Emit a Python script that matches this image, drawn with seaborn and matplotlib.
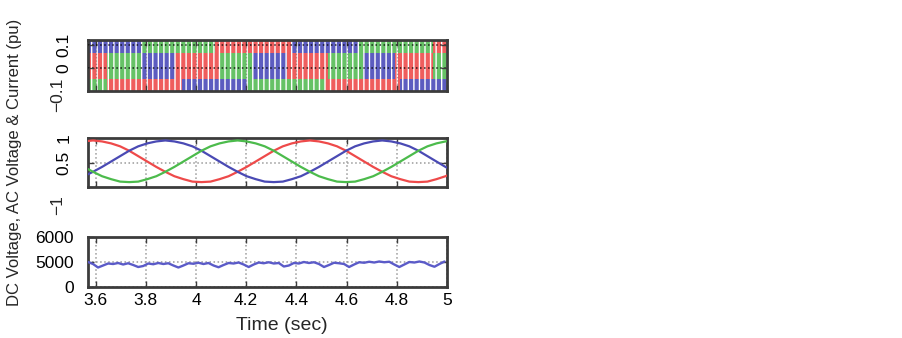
import numpy as np
import pandas as pd
import matplotlib
matplotlib.use("Agg")
import matplotlib.pyplot as plt
import seaborn as sns

# ---------------- data ----------------
# Top panel: switching pattern, segment edges (s) and phase colour per row
top_row_edges = [3.57, 3.785, 4.076, 4.383, 4.645, 4.944, 5.0]
top_row_phase = ["b", "g", "r", "b", "g", "r"]
mid_row_edges = [3.57, 3.646, 3.78, 3.917, 4.096, 4.227, 4.363, 4.526, 4.665, 4.793, 4.944, 5.0]
mid_row_phase = ["r", "g", "b", "r", "g", "b", "r", "g", "b", "r", "g"]
bot_row_edges = [3.57, 3.646, 3.944, 4.207, 4.514, 4.813, 5.0]
bot_row_phase = ["g", "r", "b", "g", "r", "b"]

# Middle panel: AC voltages (pu)
ac_time = [3.554, 3.590, 3.626, 3.662, 3.698, 3.734, 3.770, 3.806, 3.842, 3.878,
           3.914, 3.950, 3.986, 4.022, 4.058, 4.094, 4.130, 4.166, 4.202, 4.238,
           4.274, 4.310, 4.346, 4.382, 4.418, 4.454, 4.490, 4.526, 4.562, 4.598,
           4.634, 4.670, 4.706, 4.742, 4.778, 4.814, 4.850, 4.886, 4.922, 4.958,
           4.994, 5.030]
ac_red = [0.93, 0.95, 0.93, 0.89, 0.83, 0.74, 0.63, 0.52, 0.41, 0.31, 0.22, 0.16, 0.11, 0.10,
          0.11, 0.16, 0.22, 0.31, 0.41, 0.52, 0.63, 0.74, 0.83, 0.89, 0.93, 0.95, 0.93, 0.89,
          0.83, 0.74, 0.63, 0.52, 0.41, 0.31, 0.22, 0.16, 0.11, 0.10, 0.11, 0.16, 0.22, 0.31]
ac_blue = [0.22, 0.31, 0.41, 0.52, 0.63, 0.74, 0.83, 0.89, 0.93, 0.95, 0.93, 0.89, 0.83, 0.74,
           0.63, 0.52, 0.41, 0.31, 0.22, 0.16, 0.11, 0.10, 0.11, 0.16, 0.22, 0.31, 0.41, 0.52,
           0.63, 0.74, 0.83, 0.89, 0.93, 0.95, 0.93, 0.89, 0.83, 0.74, 0.63, 0.52, 0.41, 0.31]
ac_green = [0.41, 0.31, 0.22, 0.16, 0.11, 0.10, 0.11, 0.16, 0.22, 0.31, 0.41, 0.52, 0.63, 0.74,
            0.83, 0.89, 0.93, 0.95, 0.93, 0.89, 0.83, 0.74, 0.63, 0.52, 0.41, 0.31, 0.22, 0.16,
            0.11, 0.10, 0.11, 0.16, 0.22, 0.31, 0.41, 0.52, 0.63, 0.74, 0.83, 0.89, 0.93, 0.95]

# Bottom panel: DC voltage
dc_time = [3.57, 3.59, 3.61, 3.63, 3.65, 3.67, 3.69, 3.71, 3.73, 3.75, 3.77, 3.79,
           3.81, 3.83, 3.85, 3.87, 3.89, 3.91, 3.93, 3.95, 3.97, 3.99, 4.01, 4.03,
           4.05, 4.07, 4.09, 4.11, 4.13, 4.15, 4.17, 4.19, 4.21, 4.23, 4.25, 4.27,
           4.29, 4.31, 4.33, 4.35, 4.37, 4.39, 4.41, 4.43, 4.45, 4.47, 4.49, 4.51,
           4.53, 4.55, 4.57, 4.59, 4.61, 4.63, 4.65, 4.67, 4.69, 4.71, 4.73, 4.75,
           4.77, 4.79, 4.81, 4.83, 4.85, 4.87, 4.89, 4.91, 4.93, 4.95, 4.97, 4.99]
dc_volt = [5000, 4920, 4780, 4860, 4940, 4920, 4960, 4900, 4950, 4880, 4800, 4840,
           4940, 4910, 4960, 4920, 4950, 4860, 4780, 4860, 4950, 4930, 4970, 4920,
           4960, 4860, 4790, 4880, 4960, 4940, 4980, 4900, 4800, 4900, 4980, 4950,
           4990, 4940, 4960, 4820, 4860, 4960, 4940, 5000, 4960, 4990, 4920, 4800,
           4880, 4970, 4950, 4920, 4800, 4900, 4990, 4970, 5010, 4980, 5020, 4990,
           5010, 4900, 4800, 4900, 5000, 4980, 5020, 4980, 4880, 4810, 4920, 5020]

x_ticks = [3.6, 3.8, 4.0, 4.2, 4.4, 4.6, 4.8, 5.0]
x_ticklabels = ["3.6", "3.8", "4", "4.2", "4.4", "4.6", "4.8", "5"]

# ---------------- style ----------------
sns.set_theme(style="white")
plt.rcParams["font.family"] = ["Liberation Sans", "DejaVu Sans"]
plt.rcParams["hatch.linewidth"] = 1.0
plt.rcParams["axes.unicode_minus"] = True

PAL = {"b": "#5c5cc0", "g": "#66c266", "r": "#ef5d5d"}
LINE = {"red": "#ee4a4a", "blue": "#4a4ab4", "green": "#4cbb4c"}
SPINE = "#3c3c3c"
FS = 12.5

W, H = 903, 338
fig = plt.figure(figsize=(W / 100, H / 100), dpi=100)


def box(x0, y0, x1, y1):
    return [x0 / W, 1 - y1 / H, (x1 - x0) / W, (y1 - y0) / H]


ax1 = fig.add_axes(box(88, 40, 447, 91))
ax2 = fig.add_axes(box(88, 138, 447, 187))
ax3 = fig.add_axes(box(88, 237, 447, 287))

XLIM = (3.57, 5.0)

for ax in (ax1, ax2, ax3):
    ax.set_xlim(*XLIM)
    ax.set_xticks(x_ticks)
    for s in ax.spines.values():
        s.set_color(SPINE)
        s.set_linewidth(2)
    ax.tick_params(direction="in", length=4, width=1, color=SPINE,
                   top=True, right=True, bottom=True, left=True,
                   labelsize=FS, labelcolor="black")

# ---- top panel ----
ax1.set_ylim(-0.1, 0.12)
rows = [(top_row_edges, top_row_phase, 0.064, 0.12),
        (mid_row_edges, mid_row_phase, -0.048, 0.064),
        (bot_row_edges, bot_row_phase, -0.1, -0.048)]
for edges, phases, y0, y1 in rows:
    for i, ph in enumerate(phases):
        ax1.barh(y=(y0 + y1) / 2, width=edges[i + 1] - edges[i], left=edges[i],
                 height=y1 - y0, color=PAL[ph], hatch="|||", edgecolor="white",
                 linewidth=0, zorder=1)
ax1.set_yticks([0, 0.1])
ax1.set_yticklabels(["0", "0.1"], rotation=90, va="center")
ax1.tick_params(axis="y", pad=12)
ax1.tick_params(axis="x", labelbottom=False)
ax1.text(-0.065, -0.118, "\u22120.1", transform=ax1.get_yaxis_transform(),
         rotation=90, ha="right", va="center", fontsize=FS, clip_on=False)
ax1.grid(True, axis="y", color="black", linestyle=":", linewidth=1.1, alpha=0.8)
ax1.grid(True, axis="x", color="#555555", linestyle=":", linewidth=0.9, alpha=0.5)
ax1.set_axisbelow(False)

# ---- middle panel ----
ac_df = pd.DataFrame({
    "t": ac_time * 3,
    "v": ac_red + ac_blue + ac_green,
    "phase": ["red"] * len(ac_time) + ["blue"] * len(ac_time) + ["green"] * len(ac_time),
})
sns.lineplot(data=ac_df, x="t", y="v", hue="phase", palette=LINE, legend=False,
             ax=ax2, linewidth=1.6, estimator=None, sort=False, zorder=3)
ax2.set_ylim(0, 1)
ax2.set_yticks([0.5, 1])
ax2.set_yticklabels(["0.5", "1"], rotation=90, va="center")
ax2.tick_params(axis="y", pad=12)
ax2.tick_params(axis="x", labelbottom=False)
ax2.text(-0.065, -0.37, "\u22121", transform=ax2.get_yaxis_transform(),
         rotation=90, ha="right", va="center", fontsize=FS, clip_on=False)
ax2.grid(True, color="#9a9a9a", linestyle=":", linewidth=1.1)
ax2.set_xlabel("")
ax2.set_ylabel("")

# ---- bottom panel ----
sns.lineplot(x=dc_time, y=dc_volt, ax=ax3, color="#5b5bc8", linewidth=1.7, zorder=3)
ax3.set_ylim(4000, 6000)
ax3.set_yticks([4000, 5000, 6000])
ax3.set_yticklabels(["0", "5000", "6000"])
ax3.tick_params(axis="y", pad=10)
ax3.set_xticklabels(x_ticklabels)
ax3.tick_params(axis="x", pad=4)
ax3.grid(True, color="#9a9a9a", linestyle=":", linewidth=1.1)

fig.text(282 / W, 1 - 325 / H, "Time (sec)", ha="center", va="center", fontsize=14)
fig.text(15 / W, 1 - 162 / H, "DC Voltage, AC Voltage & Current (pu)",
         rotation=90, ha="center", va="center", fontsize=12)

fig.savefig("out.png", dpi=100, facecolor="white")
